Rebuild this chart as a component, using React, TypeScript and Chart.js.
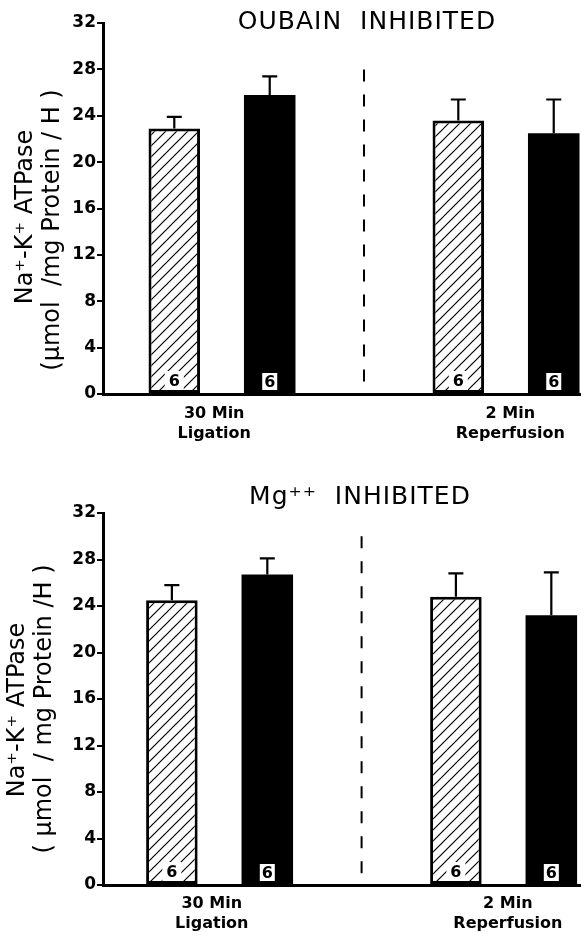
import React, { useEffect, useRef } from "react";
import { Chart, registerables } from "chart.js";

Chart.register(...registerables);

// ---------- data ----------
const groupLabels = [["30 Min", "Ligation"], ["2 Min", "Reperfusion"]];
const groupPositions = [1, 3];
const groupLabelPositions = [0.945, 3.03];
const yTicks = [0, 4, 8, 12, 16, 20, 24, 28, 32];

const ouabainHatched = [22.9, 23.6];
const ouabainHatchedErr = [1.0, 1.8];
const ouabainSolid = [25.8, 22.5];
const ouabainSolidErr = [1.6, 2.9];
const ouabainHatchedN = [6, 6];
const ouabainSolidN = [6, 6];

const mgHatched = [24.5, 24.8];
const mgHatchedErr = [1.3, 2.0];
const mgSolid = [26.7, 23.2];
const mgSolidErr = [1.4, 3.7];
const mgHatchedN = [6, 6];
const mgSolidN = [6, 6];

const FONT = '"DejaVu Sans", sans-serif';

function makeHatch(): CanvasPattern | string {
  const c = document.createElement("canvas");
  const s = 11;
  c.width = s;
  c.height = s;
  const g = c.getContext("2d");
  if (!g) return "#fff";
  g.fillStyle = "#fff";
  g.fillRect(0, 0, s, s);
  g.strokeStyle = "#000";
  g.lineWidth = 1.2;
  g.beginPath();
  g.moveTo(-1, s + 1);
  g.lineTo(s + 1, -1);
  g.moveTo(-1, 1);
  g.lineTo(1, -1);
  g.moveTo(s - 1, s + 1);
  g.lineTo(s + 1, s - 1);
  g.stroke();
  return g.createPattern(c, "repeat") || "#fff";
}

type PanelProps = {
  height: number;
  title: string;
  titleX: number;
  titleY: number;
  topPad: number;
  xAxisHeight: number;
  xLabelPad: number;
  xMin: number;
  xMax: number;
  yTitle1: string;
  yTitle2: string;
  yTitle1X: number;
  yTitle2X: number;
  yTitle1Y: number;
  yTitle2Y: number;
  dividerFrom: number;
  dividerTo: number;
  hatched: number[];
  hatchedErr: number[];
  solid: number[];
  solidErr: number[];
  hatchedN: number[];
  solidN: number[];
};

function Panel(p: PanelProps) {
  const ref = useRef<HTMLCanvasElement | null>(null);

  useEffect(() => {
    if (!ref.current) return;
    const hatch = makeHatch();
    const errs = [p.hatchedErr, p.solidErr];
    const vals = [p.hatched, p.solid];
    const ns = [p.hatchedN, p.solidN];

    const overlay = {
      id: "overlay",
      afterDatasetsDraw(chart: any) {
        const ctx = chart.ctx as CanvasRenderingContext2D;
        const xs = chart.scales.x;
        const ys = chart.scales.y;
        ctx.save();
        // error bars
        ctx.strokeStyle = "#000";
        ctx.lineWidth = 2.2;
        for (let d = 0; d < 2; d++) {
          const meta = chart.getDatasetMeta(d);
          meta.data.forEach((el: any, j: number) => {
            const top = el.y;
            const ey = ys.getPixelForValue(vals[d][j] + errs[d][j]);
            ctx.beginPath();
            ctx.moveTo(el.x, top);
            ctx.lineTo(el.x, ey);
            ctx.moveTo(el.x - 7.5, ey);
            ctx.lineTo(el.x + 7.5, ey);
            ctx.stroke();
          });
        }
        // n boxes
        const base = ys.getPixelForValue(0);
        for (let d = 0; d < 2; d++) {
          const meta = chart.getDatasetMeta(d);
          meta.data.forEach((el: any, j: number) => {
            const w = d === 0 ? 19 : 15;
            const h = d === 0 ? 19 : 17;
            const bottom = base - 4;
            ctx.fillStyle = "#fff";
            ctx.fillRect(el.x - w / 2, bottom - h, w, h);
            ctx.fillStyle = "#000";
            ctx.font = `bold 16px ${FONT}`;
            ctx.textAlign = "center";
            ctx.textBaseline = "middle";
            ctx.fillText(String(ns[d][j]), el.x, bottom - h / 2 + 1);
          });
        }
        // dashed divider
        const dx = xs.getPixelForValue(2);
        ctx.setLineDash([12, 13]);
        ctx.lineWidth = 2;
        ctx.beginPath();
        ctx.moveTo(dx, ys.getPixelForValue(p.dividerFrom));
        ctx.lineTo(dx, ys.getPixelForValue(p.dividerTo));
        ctx.stroke();
        ctx.setLineDash([]);
        // title
        ctx.fillStyle = "#000";
        ctx.font = `25px ${FONT}`;
        (ctx as any).letterSpacing = "1px";
        ctx.textAlign = "center";
        ctx.textBaseline = "middle";
        ctx.fillText(p.title, p.titleX, p.titleY);
        (ctx as any).letterSpacing = "0px";
        // y title
        ctx.font = `24px ${FONT}`;
        ctx.save();
        ctx.translate(p.yTitle1X, p.yTitle1Y);
        ctx.rotate(-Math.PI / 2);
        ctx.fillText(p.yTitle1, 0, 0);
        ctx.restore();
        ctx.save();
        ctx.translate(p.yTitle2X, p.yTitle2Y);
        ctx.rotate(-Math.PI / 2);
        ctx.fillText(p.yTitle2, 0, 0);
        ctx.restore();
        ctx.restore();
      },
    };

    const chart = new Chart(ref.current, {
      type: "bar",
      data: {
        datasets: [
          {
            data: groupPositions.map((x, i) => ({ x, y: p.hatched[i] })),
            backgroundColor: hatch as any,
            borderColor: "#000",
            borderWidth: 3,
            borderSkipped: false,
            categoryPercentage: 0.672,
            barPercentage: 0.54,
          },
          {
            data: groupPositions.map((x, i) => ({ x, y: p.solid[i] })),
            backgroundColor: "#000",
            borderWidth: 0,
            categoryPercentage: 0.672,
            barPercentage: 0.54,
          },
        ],
      } as any,
      options: {
        responsive: false,
        animation: false,
        layout: { padding: { top: p.topPad, left: 0, right: 0, bottom: 0 } },
        plugins: {
          legend: { display: false },
          tooltip: { enabled: false },
          title: { display: false },
        },
        scales: {
          x: {
            type: "linear",
            min: p.xMin,
            max: p.xMax,
            offset: false,
            grid: { display: false, drawTicks: false, offset: false },
            border: { display: true, color: "#000", width: 3 },
            afterBuildTicks: (s: any) => {
              s.ticks = groupLabelPositions.map((v) => ({ value: v }));
            },
            afterFit: (s: any) => {
              s.height = p.xAxisHeight;
            },
            ticks: {
              autoSkip: false,
              maxRotation: 0,
              padding: p.xLabelPad,
              color: "#000",
              font: { family: FONT, size: 16, weight: "bold", lineHeight: 1.25 },
              callback: (_v: any, i: number) => groupLabels[i],
            },
          } as any,
          y: {
            min: 0,
            max: 32,
            afterBuildTicks: (s: any) => {
              s.ticks = yTicks.map((v) => ({ value: v }));
            },
            afterFit: (s: any) => {
              s.width = 103;
            },
            grid: {
              drawOnChartArea: false,
              drawTicks: true,
              tickLength: 6,
              color: "#000",
              lineWidth: 2,
            },
            border: { display: true, color: "#000", width: 3 },
            ticks: {
              padding: 1,
              color: "#000",
              font: { family: FONT, size: 17, weight: "bold" },
            },
          } as any,
        },
      },
      plugins: [overlay],
    });
    return () => chart.destroy();
  }, []);

  return (
    <canvas
      ref={ref}
      width={581}
      height={p.height}
      style={{ display: "block", width: 581, height: p.height }}
    />
  );
}

export default function App() {
  useEffect(() => {
    document.body.style.margin = "0";
  }, []);
  return (
    <div style={{ width: 581, background: "#fff" }}>
      <Panel
        height={460}
        title="OUBAIN  INHIBITED"
        titleX={367}
        titleY={22}
        topPad={23}
        xAxisHeight={66}
        xLabelPad={10}
        xMin={0.162}
        xMax={3.528}
        yTitle1="Na⁺-K⁺ ATPase"
        yTitle2="(µmol  /mg Protein / H )"
        yTitle1X={26}
        yTitle2X={53}
        yTitle1Y={217}
        yTitle2Y={230}
        dividerFrom={28}
        dividerTo={1}
        hatched={ouabainHatched}
        hatchedErr={ouabainHatchedErr}
        solid={ouabainSolid}
        solidErr={ouabainSolidErr}
        hatchedN={ouabainHatchedN}
        solidN={ouabainSolidN}
      />
      <Panel
        height={476}
        title="Mg⁺⁺  INHIBITED"
        titleX={360}
        titleY={37}
        topPad={53}
        xAxisHeight={51}
        xLabelPad={9}
        xMin={0.179}
        xMax={3.545}
        yTitle1="Na⁺-K⁺ ATPase"
        yTitle2="( µmol  / mg Protein /H )"
        yTitle1X={18}
        yTitle2X={45}
        yTitle1Y={250}
        yTitle2Y={249}
        dividerFrom={30}
        dividerTo={1}
        hatched={mgHatched}
        hatchedErr={mgHatchedErr}
        solid={mgSolid}
        solidErr={mgSolidErr}
        hatchedN={mgHatchedN}
        solidN={mgSolidN}
      />
    </div>
  );
}
